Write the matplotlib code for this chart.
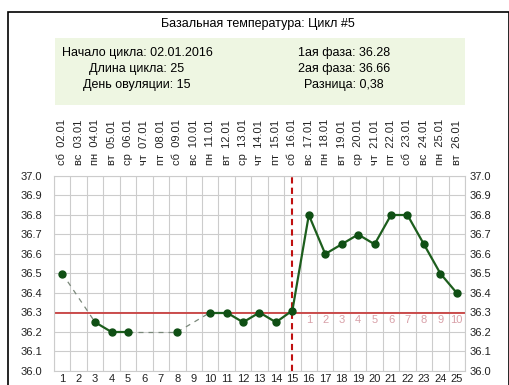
import matplotlib
matplotlib.use("Agg")
import matplotlib.pyplot as plt
from matplotlib.patches import Rectangle
from matplotlib.transforms import blended_transform_factory
import numpy as np

plt.rcParams["font.family"] = ["Liberation Sans", "DejaVu Sans"]

# --- data ---
days = list(range(1, 26))
weekdays = ["сб", "вс", "пн", "вт", "ср", "чт", "пт", "сб", "вс", "пн", "вт", "ср", "чт",
            "пт", "сб", "вс", "пн", "вт", "ср", "чт", "пт", "сб", "вс", "пн", "вт"]
dates = ["02.01", "03.01", "04.01", "05.01", "06.01", "07.01", "08.01", "09.01", "10.01",
         "11.01", "12.01", "13.01", "14.01", "15.01", "16.01", "17.01", "18.01", "19.01",
         "20.01", "21.01", "22.01", "23.01", "24.01", "25.01", "26.01"]
temps = [36.5, None, 36.25, 36.2, 36.2, None, None, 36.2, None, 36.3, 36.3, 36.25, 36.3,
         36.25, 36.31, 36.8, 36.6, 36.65, 36.7, 36.65, 36.8, 36.8, 36.65, 36.5, 36.4]
coverline = 36.3
ovulation_day = 15
phase2_labels = [str(i) for i in range(1, 11)]

title = "Базальная температура: Цикл #5"
info_left = ["Начало цикла: 02.01.2016", "Длина цикла: 25", "День овуляции: 15"]
info_right = ["1ая фаза: 36.28", "2ая фаза: 36.66", "Разница: 0,38"]

W, H = 510, 385
fig = plt.figure(figsize=(W / 100, H / 100), dpi=100)
fig.patch.set_facecolor("white")

# outer frame
fig.patches.append(Rectangle((8 / W, -0.02), (W - 9) / W, (H - 12) / H + 0.02,
                             transform=fig.transFigure, fill=False, ec="black", lw=1.2))

fig.text(258 / W, 1 - 24 / H, title, ha="center", va="center", fontsize=9)
fig.patches.append(Rectangle((55 / W, 1 - 105 / H), 410 / W, 67 / H,
                             transform=fig.transFigure, fc="#eef6e2", ec="none"))
for i, (l, r) in enumerate(zip(info_left, info_right)):
    y = 1 - (53 + 16 * i) / H
    fig.text(137 / W, y, l, ha="center", va="center", fontsize=9)
    fig.text(344 / W, y, r, ha="center", va="center", fontsize=9)

ax = fig.add_axes([54 / W, 14 / H, 411 / W, 195 / H])
ax.set_xlim(0.5, 25.5)
ax.set_ylim(36.0, 37.0)

# grid
ax.set_xticks(np.arange(0.5, 26, 1), minor=True)
ax.grid(True, which="minor", axis="x", color="#cccccc", lw=0.8)
ax.set_yticks(np.arange(36.0, 37.01, 0.1))
ax.grid(True, which="major", axis="y", color="#cccccc", lw=0.8)
ax.set_axisbelow(True)
for s in ax.spines.values():
    s.set_color("#cccccc")

ax.set_xticks(days)
ax.set_xticklabels([str(d) for d in days])
ax.set_yticklabels([f"{v:.1f}" for v in np.arange(36.0, 37.01, 0.1)])
ax.tick_params(axis="both", which="both", length=0, labelsize=8, colors="#222222")
ax.tick_params(axis="x", pad=2.5)
ax.tick_params(axis="y", pad=8.5)

axr = ax.twinx()
axr.set_ylim(36.0, 37.0)
axr.set_yticks(np.arange(36.0, 37.01, 0.1))
axr.set_yticklabels([f"{v:.1f}" for v in np.arange(36.0, 37.01, 0.1)])
axr.tick_params(length=0, labelsize=8, pad=3.5, colors="#222222")
for s in axr.spines.values():
    s.set_visible(False)

# coverline and ovulation marker
ax.axhline(coverline, color="#c84040", lw=1.3, zorder=2)
ax.axvline(ovulation_day, color="#c01010", lw=1.5, ls=(0, (3, 2)), zorder=2)
for d, lab in zip(range(ovulation_day + 1, 26), phase2_labels):
    ax.text(d, 36.26, lab, ha="center", va="center", fontsize=8, color="#d8a0a8")

# temperature curve: solid on consecutive days, dashed across gaps
green = "#1d5e1d"
known = [(d, t) for d, t in zip(days, temps) if t is not None]
for (d0, t0), (d1, t1) in zip(known[:-1], known[1:]):
    if d1 - d0 == 1:
        ax.plot([d0, d1], [t0, t1], color=green, lw=1.6, zorder=3)
    else:
        ax.plot([d0, d1], [t0, t1], color="#7a887a", lw=0.9, ls=(0, (4, 4)), zorder=3)
kd = [d for d, t in known]
kt = [t for d, t in known]
ax.plot(kd, kt, ls="none", marker="o", ms=5, color="#0f4f14", zorder=4)

# weekday / date labels above the plot
trans = blended_transform_factory(ax.transData, ax.transAxes)
for d, wd, dt in zip(days, weekdays, dates):
    ax.text(d, 1.055, f"{wd}  {dt}", transform=trans, rotation=90, ha="center",
            va="bottom", fontsize=8, color="#222222")

fig.savefig("out.png", dpi=100)
